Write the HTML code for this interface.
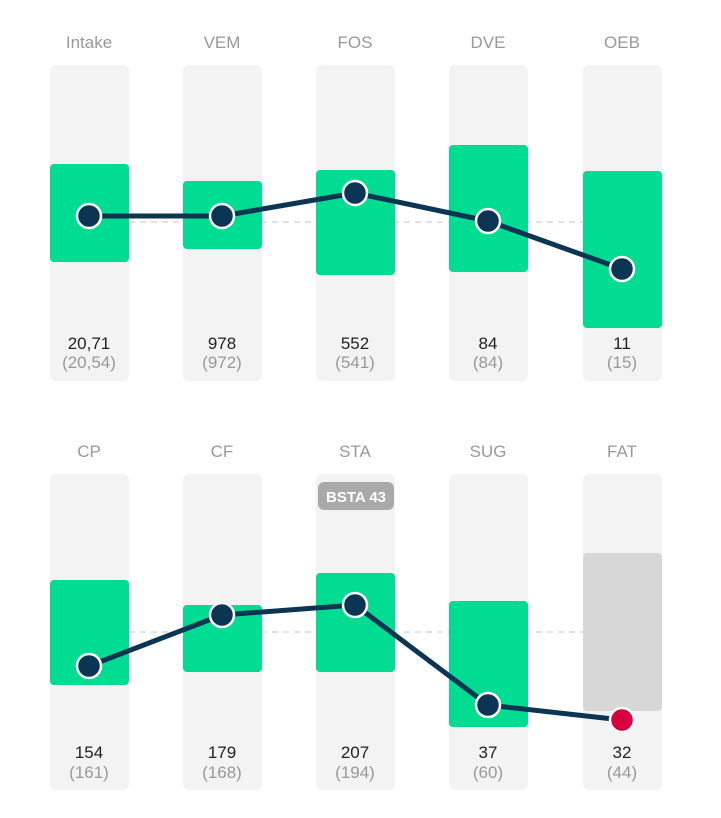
<!DOCTYPE html>
<html><head><style>body{margin:0;background:#fff}svg{display:block}</style></head><body>
<svg width="721" height="818" xmlns="http://www.w3.org/2000/svg" font-family="Liberation Sans, sans-serif">
<g fill="#f3f3f3">
<rect x="50" y="65" width="79" height="316" rx="6"/><rect x="183" y="65" width="79" height="316" rx="6"/><rect x="316" y="65" width="79" height="316" rx="6"/><rect x="449" y="65" width="79" height="316" rx="6"/><rect x="583" y="65" width="79" height="316" rx="6"/>
<rect x="50" y="474" width="79" height="316" rx="6"/><rect x="183" y="474" width="79" height="316" rx="6"/><rect x="316" y="474" width="79" height="316" rx="6"/><rect x="449" y="474" width="79" height="316" rx="6"/><rect x="583" y="474" width="79" height="316" rx="6"/>
</g>
<g stroke="#d8d8d8" stroke-dasharray="6,5" stroke-width="1.5"><line x1="129" y1="222" x2="583" y2="222"/><line x1="129" y1="632" x2="583" y2="632"/></g>
<g fill="#00dc91">
<rect x="50" y="164" width="79" height="98" rx="4"/><rect x="183" y="181" width="79" height="68" rx="4"/><rect x="316" y="170" width="79" height="105" rx="4"/><rect x="449" y="145" width="79" height="127" rx="4"/><rect x="583" y="171" width="79" height="157" rx="4"/>
<rect x="50" y="580" width="79" height="105" rx="4"/><rect x="183" y="605" width="79" height="67" rx="4"/><rect x="316" y="573" width="79" height="99" rx="4"/><rect x="449" y="601" width="79" height="126" rx="4"/>
</g>
<rect x="583" y="553" width="79" height="158" rx="4" fill="#d7d7d7"/>
<rect x="318" y="482" width="76" height="28" rx="6" fill="#a9a9a9"/>
<text x="356" y="502" text-anchor="middle" fill="#fff" font-size="15" font-weight="bold">BSTA 43</text>
<g fill="none" stroke="#0b3553" stroke-width="5" stroke-linejoin="round">
<polyline points="89,216 222,216 355,193 488,221 622,269"/>
<polyline points="89,666 222,615 355,605 488,705 622,720"/>
</g>
<g fill="#0b3553" stroke="#fff" stroke-width="2.5">
<circle cx="89" cy="216" r="12"/><circle cx="222" cy="216" r="12"/><circle cx="355" cy="193" r="12"/><circle cx="488" cy="221" r="12"/><circle cx="622" cy="269" r="12"/>
<circle cx="89" cy="666" r="12"/><circle cx="222" cy="615" r="12"/><circle cx="355" cy="605" r="12"/><circle cx="488" cy="705" r="12"/><circle cx="622" cy="720" r="12" fill="#d6003c"/>
</g>
<g text-anchor="middle" font-size="17" fill="#999">
<text x="89" y="48">Intake</text><text x="222" y="48">VEM</text><text x="355" y="48">FOS</text><text x="488" y="48">DVE</text><text x="622" y="48">OEB</text>
<text x="89" y="457">CP</text><text x="222" y="457">CF</text><text x="355" y="457">STA</text><text x="488" y="457">SUG</text><text x="622" y="457">FAT</text>
<text x="89" y="368">(20,54)</text><text x="222" y="368">(972)</text><text x="355" y="368">(541)</text><text x="488" y="368">(84)</text><text x="622" y="368">(15)</text>
<text x="89" y="778">(161)</text><text x="222" y="778">(168)</text><text x="355" y="778">(194)</text><text x="488" y="778">(60)</text><text x="622" y="778">(44)</text>
</g>
<g text-anchor="middle" font-size="17" fill="#222">
<text x="89" y="349">20,71</text><text x="222" y="349">978</text><text x="355" y="349">552</text><text x="488" y="349">84</text><text x="622" y="349">11</text>
<text x="89" y="758">154</text><text x="222" y="758">179</text><text x="355" y="758">207</text><text x="488" y="758">37</text><text x="622" y="758">32</text>
</g>
</svg>
</body></html>
